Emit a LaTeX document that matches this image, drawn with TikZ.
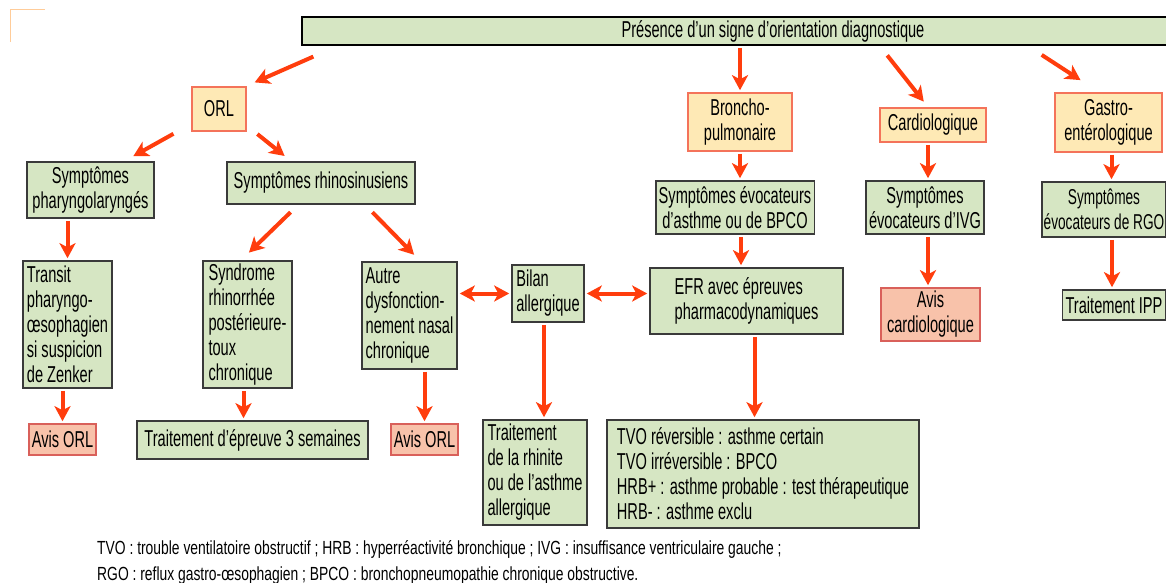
\documentclass[tikz,border=0pt]{standalone}
\usepackage{fontspec}
\setmainfont[FakeStretch=0.635]{Liberation Sans}
\newfontfamily\legendfont[FakeStretch=0.73]{Liberation Sans}
\usetikzlibrary{arrows.meta}
\definecolor{boxgreen}{HTML}{D6E6C3}
\definecolor{boxline}{HTML}{3A3A3A}
\definecolor{orientfill}{HTML}{FEE9B5}
\definecolor{orientline}{HTML}{F4735A}
\definecolor{avisfill}{HTML}{F8C2AA}
\definecolor{avisline}{HTML}{D9605A}
\definecolor{arrowred}{HTML}{FF3D0D}
\begin{document}
\begin{tikzpicture}[x=1pt,y=-1pt,>={Stealth[length=15pt,width=16pt,inset=4pt]},font=\fontsize{23}{25}\selectfont]
        \tikzset{box/.style={draw=boxline, fill=boxgreen, line width=1.6pt, inner sep=3pt, align=center},
          orient/.style={box, draw=orientline, fill=orientfill},
          avis/.style={box, draw=avisline, fill=avisfill},
          arr/.style={->, draw=arrowred, line width=4pt, shorten <=2pt, shorten >=2pt}}
        \fill[white] (0,0) rectangle (1166,582);
        \useasboundingbox (0,0) rectangle (1166,582);
        \draw[orange!40, line width=0.8pt] (10.5,42) -- (10.5,9.5) -- (45,9.5);
        % top level
        \node[box, draw=black, minimum width=942, minimum height=28] (top) at (773,31) {Présence d’un signe d’orientation diagnostique};
        \node[orient, minimum width=54, minimum height=44] (orl) at (219,109) {ORL};
        \node[orient, minimum width=104, minimum height=58] (broncho) at (740,122) {Broncho-\\pulmonaire};
        \node[orient, minimum width=106, minimum height=34] (cardio) at (933,125) {Cardiologique};
        \node[orient, minimum width=107, minimum height=59] (gastro) at (1108.5,122.5) {Gastro-\\entérologique};
        % ORL branch
        \node[box, minimum width=127, minimum height=56] (pharyngo) at (90.5,190) {Symptômes\\pharyngolaryngés};
        \node[box, minimum width=188, minimum height=42] (rhino) at (321,183) {Symptômes rhinosinusiens};
        \node[box, align=left, minimum width=89, minimum height=127] (transit) at (67.5,324.5) {Transit\\pharyngo-\\œsophagien\\si suspicion\\de Zenker};
        \node[box, align=left, minimum width=89, minimum height=127] (syndrome) at (247.5,324.5) {Syndrome\\rhinorrhée\\postérieure-\\toux\\chronique};
        \node[box, align=left, minimum width=95, minimum height=107] (autre) at (409.5,315.5) {Autre\\dysfonction-\\nement nasal\\chronique};
        \node[box, align=left, minimum width=72, minimum height=57] (bilan) at (548,293.5) {Bilan\\allergique};
        \node[avis, minimum width=65, minimum height=31] (avis1) at (62.5,439.5) {Avis ORL};
        \node[box, minimum width=231, minimum height=38] (trait3) at (252.5,440) {Traitement d’épreuve 3 semaines};
        \node[avis, minimum width=65, minimum height=31] (avis2) at (424.5,439.5) {Avis ORL};
        \node[box, align=left, minimum width=104, minimum height=105] (rhinite) at (535,472.5) {Traitement\\de la rhinite\\ou de l’asthme\\allergique};
        % broncho-pulmonaire branch
        \node[box, minimum width=156, minimum height=53] (asthme) at (735,207.5) {Symptômes évocateurs\\d’asthme ou de BPCO};
        \node[box, align=left, minimum width=193, minimum height=66] (efr) at (746.5,301) {EFR avec épreuves\\pharmacodynamiques};
        \node[box, align=left, minimum width=312, minimum height=108] (tvo) at (763,474) {TVO réversible : asthme certain\\TVO irréversible : BPCO\\HRB+ : asthme probable : test thérapeutique\\HRB- : asthme exclu};
        % cardio and gastro branches
        \node[box, minimum width=112, minimum height=53] (ivg) at (925,207.5) {Symptômes\\évocateurs d’IVG};
        \node[avis, minimum width=99, minimum height=53] (aviscardio) at (930.5,314.5) {Avis\\cardiologique};
        \node[box, inner sep=1pt, minimum width=124, minimum height=55, font=\fontsize{21.5}{25}\selectfont] (rgo) at (1104,209.5) {Symptômes\\évocateurs de RGO};
        \node[box, minimum width=100, minimum height=30] (ipp) at (1114,305) {Traitement IPP};
        % legend
        \node[anchor=west, align=left, inner sep=0pt, font=\legendfont\fontsize{19}{26}\selectfont] (legend) at (97,562) {TVO : trouble ventilatoire obstructif ; HRB : hyperréactivité bronchique ; IVG : insuffisance ventriculaire gauche ;\\RGO : reflux gastro-œsophagien ; BPCO : bronchopneumopathie chronique obstructive.};
        % arrows
        \draw[arr] ([shift={(14,10)}]top.south west) -- ([shift={(6,-3)}]orl.north east);
        \draw[arr] (broncho.north |- top.south) -- (broncho.north);
        \draw[arr] ([shift={(113,8)}]top.south) -- ([shift={(-8,-4)}]cardio.north);
        \draw[arr] ([shift={(267,8)}]top.south) -- ([shift={(28,-11)}]gastro.north west);
        \draw[arr] ([shift={(-16,1)}]orl.south west) -- ([shift={(41,-4)}]pharyngo.north);
        \draw[arr] ([shift={(9,1)}]orl.south east) -- ([shift={(60,-4)}]rhino.north west);
        \draw[arr] ([shift={(-29,6)}]rhino.south) -- ([shift={(0,-6)}]syndrome.north);
        \draw[arr] ([shift={(50,6)}]rhino.south) -- ([shift={(6,-5)}]autre.north);
        \draw[arr] (transit.north |- pharyngo.south) -- (transit.north);
        \draw[arr] (avis1.north |- transit.south) -- (avis1.north);
        \draw[arr] ([xshift=-4]syndrome.south) -- ([xshift=-4]syndrome.south |- trait3.north);
        \draw[arr] (avis2.north |- autre.south) -- (avis2.north);
        \draw[arr, <->] (bilan.west) -- (bilan.west -| autre.east);
        \draw[arr, <->] (bilan.east) -- (bilan.east -| efr.west);
        \draw[arr] ([xshift=-4]bilan.south) -- ([xshift=-4]bilan.south |- rhinite.north);
        \draw[arr] (broncho.south) -- (broncho.south |- asthme.north);
        \draw[arr] ([xshift=6]asthme.south) -- ([xshift=6]asthme.south |- efr.north);
        \draw[arr] ([xshift=8]efr.south) -- ([xshift=8]efr.south |- tvo.north);
        \draw[arr] ([xshift=3]ivg.north |- cardio.south) -- ([xshift=3]ivg.north);
        \draw[arr] ([xshift=3]ivg.south) -- ([xshift=3]ivg.south |- aviscardio.north);
        \draw[arr] ([xshift=3]gastro.south) -- ([xshift=3]gastro.south |- rgo.north);
        \draw[arr] ([xshift=-2]ipp.north |- rgo.south) -- ([xshift=-2]ipp.north);
    \end{tikzpicture}
\end{document}
